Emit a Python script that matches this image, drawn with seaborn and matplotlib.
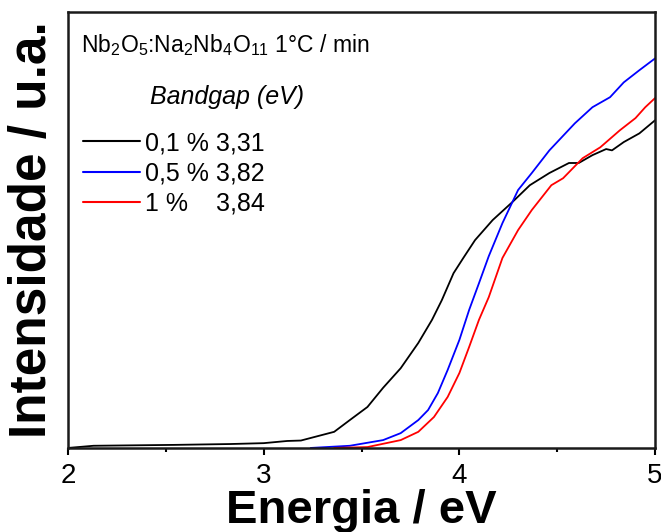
import numpy as np
import pandas as pd
import matplotlib
matplotlib.use("Agg")
import matplotlib.pyplot as plt
import seaborn as sns
from matplotlib.ticker import MultipleLocator

# Data (intensity in arbitrary units)
x_01 = [2.00, 2.13, 2.54, 2.83, 3.00, 3.12, 3.19, 3.36, 3.44, 3.53, 3.61, 3.70, 3.79,
        3.86, 3.91, 3.97, 4.02, 4.08, 4.17, 4.27, 4.36, 4.46, 4.56, 4.61, 4.68,
        4.75, 4.78, 4.84, 4.92, 5.00]
y_01 = [0.000, 0.005, 0.007, 0.009, 0.011, 0.016, 0.017, 0.037, 0.064, 0.094, 0.138, 0.183, 0.241,
        0.294, 0.339, 0.401, 0.436, 0.477, 0.523, 0.564, 0.603, 0.631, 0.654, 0.654, 0.672,
        0.686, 0.683, 0.702, 0.722, 0.752]

x_05 = [3.24, 3.44, 3.61, 3.70, 3.79, 3.84, 3.89, 3.94, 4.00, 4.05, 4.10, 4.15, 4.22,
        4.30, 4.37, 4.46, 4.59, 4.68, 4.77, 4.84, 4.92, 5.00]
y_05 = [0.000, 0.005, 0.018, 0.034, 0.064, 0.087, 0.126, 0.179, 0.248, 0.317, 0.378, 0.440, 0.516,
        0.592, 0.631, 0.683, 0.745, 0.782, 0.805, 0.839, 0.867, 0.894]

x_1 = [3.36, 3.53, 3.70, 3.79, 3.87, 3.94, 4.00, 4.05, 4.10, 4.15, 4.22, 4.30, 4.37,
       4.47, 4.53, 4.63, 4.72, 4.82, 4.90, 4.95, 5.00]
y_1 = [0.000, 0.002, 0.018, 0.037, 0.071, 0.117, 0.172, 0.232, 0.294, 0.346, 0.436, 0.500, 0.546,
       0.603, 0.619, 0.665, 0.690, 0.729, 0.757, 0.782, 0.803]

labels = ["0,1 % 3,31", "0,5 % 3,82", "1 %    3,84"]
colors = ["#000000", "#0000ff", "#ff0000"]
xticks = [2, 3, 4, 5]

frames = []
for xs, ys, lab in zip([x_01, x_05, x_1], [y_01, y_05, y_1], labels):
    frames.append(pd.DataFrame({"E": xs, "I": ys, "amostra": lab}))
df = pd.concat(frames, ignore_index=True)

sns.set_style("ticks")
plt.rcParams["font.family"] = ["Liberation Sans", "DejaVu Sans"]
plt.rcParams["mathtext.fontset"] = "custom"
plt.rcParams["mathtext.rm"] = "Liberation Sans"
plt.rcParams["mathtext.it"] = "Liberation Sans:italic"
plt.rcParams["mathtext.bf"] = "Liberation Sans:bold"
plt.rcParams["text.color"] = "black"
plt.rcParams["axes.labelcolor"] = "black"
plt.rcParams["xtick.color"] = "black"
plt.rcParams["xtick.labelcolor"] = "black"

fig = plt.figure(figsize=(6.61, 5.32), dpi=100)
ax = fig.add_axes([0.103, 0.158, 0.888, 0.819])

sns.lineplot(data=df, x="E", y="I", hue="amostra", palette=colors,
             hue_order=labels, linewidth=1.3, ax=ax, sort=True, estimator=None)

ax.set_xlim(2, 5)
ax.set_ylim(0, 1)
ax.set_xticks(xticks)
ax.set_xticklabels([str(t) for t in xticks])
ax.xaxis.set_minor_locator(MultipleLocator(0.5))
ax.set_yticks([])
ax.tick_params(axis="x", which="major", direction="out", length=5, width=1.5,
               labelsize=20, pad=6)
ax.tick_params(axis="x", which="minor", direction="out", length=3, width=1.5)
for s in ax.spines.values():
    s.set_linewidth(1.8)
    s.set_visible(True)
    s.set_color("#1a1a1a")

ax.set_xlabel("Energia / eV", fontsize=34, fontweight="bold", labelpad=0)
ax.set_ylabel("Intensidade / u.a.", fontsize=37, fontweight="bold", labelpad=8)

ax.text(0.022, 0.924, r"Nb$_2$O$_5$:Na$_2$Nb$_4$O$_{11}$ 1°C / min",
        transform=ax.transAxes, fontsize=16.5, ha="left", va="center")
ax.text(0.139, 0.805, "Bandgap (eV)", transform=ax.transAxes, fontsize=18,
        style="italic", ha="left", va="center")

leg = ax.legend(loc="upper left", bbox_to_anchor=(0.0256, 0.727), frameon=False,
                fontsize=18, handlelength=2.28, handletextpad=0.2,
                labelspacing=0.25, borderaxespad=0.0, borderpad=0.0)
for h in leg.get_lines():
    h.set_linewidth(1.5)

fig.savefig("out.png", dpi=100)
